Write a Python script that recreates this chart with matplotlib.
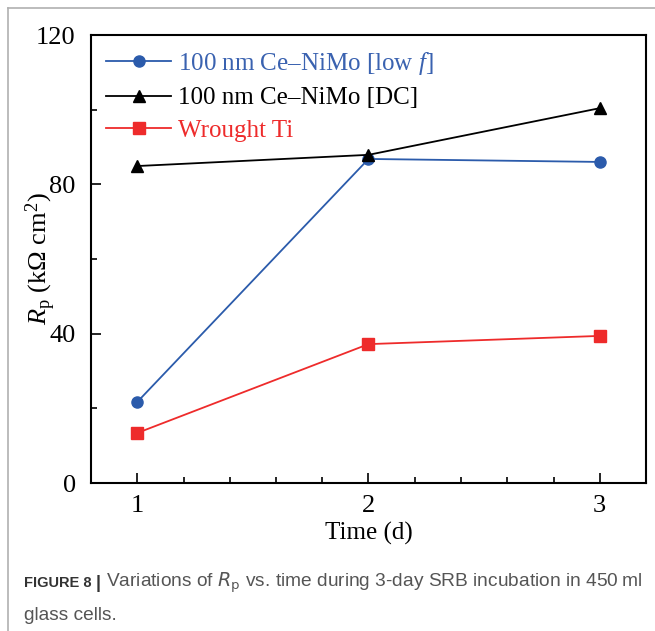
import matplotlib
matplotlib.use("Agg")

import matplotlib.pyplot as plt
from matplotlib.ticker import MultipleLocator
from matplotlib.lines import Line2D

# data
days = [1, 2, 3]
rp_lowf = [21.7, 86.8, 86.0]
rp_dc = [84.9, 87.9, 100.4]
rp_ti = [13.4, 37.2, 39.4]

labels = ["100 nm Ce\u2013NiMo [low $\\it{f}$]", "100 nm Ce\u2013NiMo [DC]", "Wrought Ti"]
colors = ["#2b5bab", "#000000", "#ee2b2b"]
text_colors = ["#3a62b0", "#000000", "#ee2b2b"]
markers = ["o", "^", "s"]

plt.rcParams["font.family"] = ["Liberation Serif", "DejaVu Serif"]
plt.rcParams["mathtext.fontset"] = "custom"
plt.rcParams["mathtext.rm"] = "Liberation Serif"
plt.rcParams["mathtext.it"] = "Liberation Serif:italic"

fig = plt.figure(figsize=(6.55, 6.31), dpi=100)

# outer frame lines (left + top)
fig.add_artist(Line2D([7.5 / 655, 7.5 / 655], [0, 1 - 8 / 631], color="#b0b0b0", lw=1.2))
fig.add_artist(Line2D([7.5 / 655, 1], [1 - 8 / 631, 1 - 8 / 631], color="#b0b0b0", lw=1.2))

ax = fig.add_axes([91 / 655, 148 / 631, 555 / 655, 448 / 631])

for y, lab, c, m in zip([rp_lowf, rp_dc, rp_ti], labels, colors, markers):
    ax.plot(days, y, color=c, marker=m, markersize=8, lw=1.3, label=lab)

ax.set_xlim(0.8, 3.2)
ax.set_ylim(0, 120)
ax.xaxis.set_major_locator(MultipleLocator(1))
ax.xaxis.set_minor_locator(MultipleLocator(0.2))
ax.yaxis.set_major_locator(MultipleLocator(40))
ax.yaxis.set_minor_locator(MultipleLocator(20))
ax.tick_params(which="both", direction="in", top=False, right=False, labelsize=19)
ax.tick_params(which="major", length=7, width=1.2, pad=9)
ax.tick_params(which="minor", length=4, width=1.2)
ax.tick_params(axis="y", which="major", pad=11)
for s in ax.spines.values():
    s.set_linewidth(1.5)

ax.set_xlabel("Time (d)", fontsize=18, labelpad=3)
ax.set_ylabel("$R_{\\mathrm{p}}$ (k\u03a9 cm$^2$)", fontsize=19)
ax.yaxis.set_label_coords(-0.06, 0.5)

leg = ax.legend(loc="upper left", frameon=False, fontsize=18, handlelength=2.6,
                handletextpad=0.3, labelspacing=0.4, borderaxespad=0.2,
                bbox_to_anchor=(0.0, 1.0))
for t, c in zip(leg.get_texts(), text_colors):
    t.set_color(c)

# caption
cap_font = ["Liberation Sans", "DejaVu Sans"]
fig.text(24 / 655, 1 - 583 / 631, "FIGURE 8", fontsize=10.5, fontweight="bold",
         color="#333333", family=cap_font, va="center")
fig.text(96 / 655, 1 - 583 / 631, "|", fontsize=13, fontweight="bold",
         color="#333333", family=cap_font, va="center")
fig.text(106 / 655, 1 - 583 / 631,
         "Variations of $R_{\\mathrm{p}}$ vs. time during 3-day SRB incubation in 450\u2009ml",
         fontsize=13.8, color="#555555", family=cap_font, va="center", math_fontfamily="dejavusans")
fig.text(24 / 655, 1 - 615 / 631, "glass cells.", fontsize=13.8, color="#555555",
         family=cap_font, va="center")

fig.savefig("out.png", dpi=100)
